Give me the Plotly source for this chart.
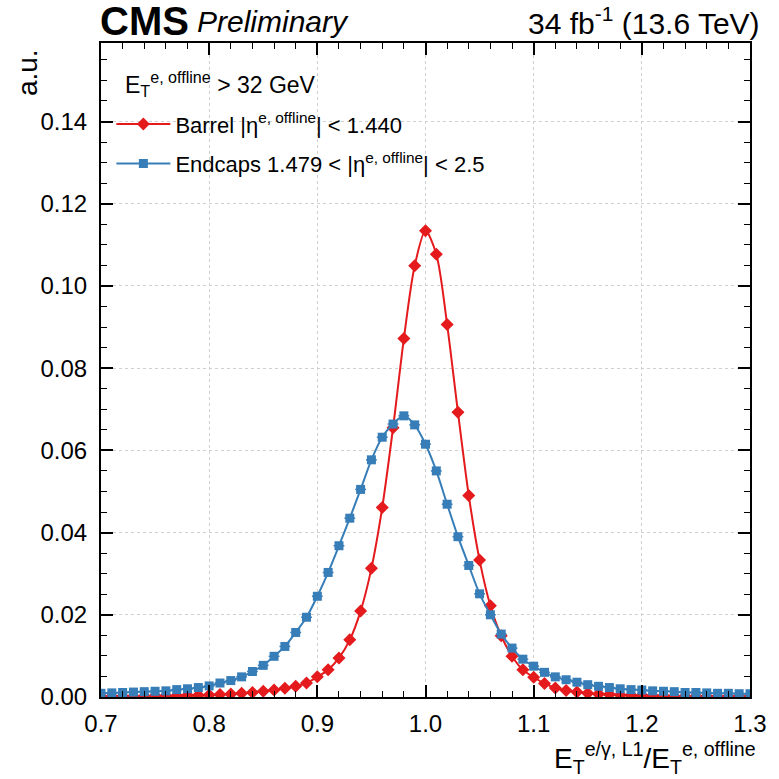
import plotly.graph_objects as go

x_vals = [round(0.70 + 0.01 * i, 2) for i in range(61)]

barrel = [0.0001, 0.0001, 0.0002, 0.0002, 0.0002, 0.0003, 0.0003, 0.0003, 0.0004, 0.0004,
          0.0005, 0.0006, 0.0007, 0.0009, 0.0011, 0.0014, 0.0017, 0.0021, 0.0026, 0.0034,
          0.0049, 0.0066, 0.0095, 0.0139, 0.0209, 0.0313, 0.0461, 0.0655, 0.0872, 0.1049,
          0.1134, 0.1077, 0.0906, 0.0693, 0.0490, 0.0333, 0.0222, 0.0149, 0.0099, 0.0066,
          0.0048, 0.0033, 0.0022, 0.0016, 0.0012, 0.0009, 0.0007, 0.0006, 0.0005, 0.0004,
          0.0004, 0.0003, 0.0003, 0.0002, 0.0002, 0.0002, 0.0002, 0.0001, 0.0001, 0.0001,
          0.0001]

endcaps = [0.0009, 0.0010, 0.0011, 0.0012, 0.0013, 0.0014, 0.0015, 0.0018, 0.0020, 0.0023,
           0.0027, 0.0034, 0.0040, 0.0049, 0.0062, 0.0077, 0.0099, 0.0123, 0.0157, 0.0194,
           0.0245, 0.0303, 0.0368, 0.0435, 0.0505, 0.0577, 0.0632, 0.0664, 0.0684, 0.0662,
           0.0615, 0.0550, 0.0469, 0.0390, 0.0320, 0.0251, 0.0200, 0.0153, 0.0119, 0.0092,
           0.0075, 0.0060, 0.0049, 0.0042, 0.0036, 0.0030, 0.0026, 0.0023, 0.0020, 0.0018,
           0.0017, 0.0015, 0.0014, 0.0013, 0.0011, 0.0011, 0.0010, 0.0009, 0.0009, 0.0008,
           0.0008]

x_ticks = [0.7, 0.8, 0.9, 1.0, 1.1, 1.2, 1.3]
y_ticks = [0.00, 0.02, 0.04, 0.06, 0.08, 0.10, 0.12, 0.14]

RED = "#e41a1c"
BLUE = "#377eb8"
FONT = "Liberation Sans, Arial, Helvetica, sans-serif"

fig = go.Figure()

fig.add_trace(go.Scatter(
    x=x_vals, y=barrel, mode="lines+markers",
    name="Barrel |η<sup>e, offline</sup>| &lt; 1.440",
    legendgroup="b",
    line=dict(color=RED, width=2, shape="spline", smoothing=0.8),
    marker=dict(symbol="diamond", size=10, color=RED),
    error_x=dict(type="constant", value=0.005, color=RED, thickness=1.5, width=0),
))
fig.add_trace(go.Scatter(
    x=x_vals, y=endcaps, mode="lines+markers",
    name="Endcaps 1.479 &lt; |η<sup>e, offline</sup>| &lt; 2.5",
    legendgroup="e",
    line=dict(color=BLUE, width=2, shape="spline", smoothing=0.8),
    marker=dict(symbol="square", size=9, color=BLUE),
    error_x=dict(type="constant", value=0.005, color=BLUE, thickness=1.5, width=0),
))

axis_common = dict(
    showline=True, linecolor="black", linewidth=2, mirror="allticks",
    ticks="inside", ticklen=12, tickwidth=1.5, tickcolor="black",
    showgrid=True, gridcolor="#d0d0d0", griddash="dot", gridwidth=1,
    zeroline=False,
    tickfont=dict(size=24, color="black", family=FONT),
)

fig.update_xaxes(
    range=[0.7, 1.3], tickvals=x_ticks, ticktext=[f"{v:.1f}" for v in x_ticks],
    minor=dict(dtick=0.02, tick0=0.7, ticks="inside", ticklen=6, tickwidth=1.2,
               tickcolor="black", showgrid=False),
    ticklabelstandoff=4,
    **axis_common,
)
fig.update_yaxes(
    range=[0, 0.1591], tickvals=y_ticks, ticktext=[f"{v:.2f}" for v in y_ticks],
    minor=dict(dtick=0.005, tick0=0, ticks="inside", ticklen=6, tickwidth=1.2,
               tickcolor="black", showgrid=False),
    ticklabelstandoff=7,
    **axis_common,
)

fig.update_layout(
    width=779, height=779,
    margin=dict(l=101, r=21, t=43, b=82),
    paper_bgcolor="white", plot_bgcolor="white",
    font=dict(family=FONT, color="black"),
    showlegend=True,
    legend=dict(
        x=0.016, y=0.908, xanchor="left", yanchor="top",
        bgcolor="rgba(0,0,0,0)", borderwidth=0,
        font=dict(size=22, color="black", family=FONT),
        traceorder="grouped", tracegroupgap=8, itemwidth=54,
    ),
    annotations=[
        dict(text="<b>CMS</b>", xref="paper", yref="paper", x=0, y=1.033,
             xanchor="left", yanchor="middle", xshift=-3, showarrow=False,
             font=dict(size=40, family=FONT, color="black")),
        dict(text="<i>Preliminary</i>", xref="paper", yref="paper", x=0.145, y=1.033,
             xanchor="left", yanchor="middle", showarrow=False,
             font=dict(size=30, family=FONT, color="black")),
        dict(text="34 fb<sup>-1</sup> (13.6 TeV)", xref="paper", yref="paper", x=1, y=1.033,
             xanchor="right", yanchor="middle", xshift=12, showarrow=False,
             font=dict(size=30, family=FONT, color="black")),
        dict(text="E<sub>T</sub><sup>e, offline</sup> > 32 GeV", xref="paper", yref="paper",
             x=0.034, y=(697.3 - 84) / 654.6, xanchor="left", yanchor="middle",
             showarrow=False, font=dict(size=23, family=FONT, color="black")),
        dict(text="a.u.", xref="paper", yref="paper", x=-0.113, y=0.994,
             xanchor="center", yanchor="top", textangle=-90, showarrow=False,
             font=dict(size=28, family=FONT, color="black")),
        dict(text="E<sub>T</sub><sup>e/γ, L1</sup>/E<sub>T</sub><sup>e, offline</sup>",
             xref="paper", yref="paper", x=1.0, y=-0.06,
             xanchor="right", yanchor="top", xshift=8, showarrow=False,
             font=dict(size=28, family=FONT, color="black")),
    ],
)

fig.write_html("out.html")
